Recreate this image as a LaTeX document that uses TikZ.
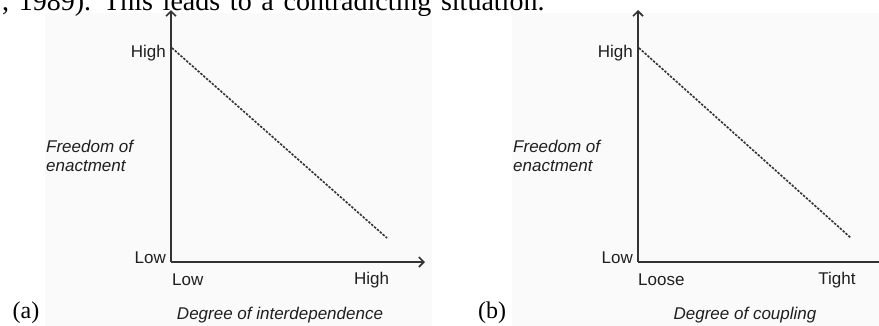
\documentclass[tikz,border=0pt]{standalone}
\usepackage{fontspec}
\setmainfont{Liberation Serif}
\newfontfamily\labelfont{Liberation Sans}
\usetikzlibrary{arrows.meta}
\definecolor{axisgray}{HTML}{333333}
\definecolor{panelbg}{HTML}{FAFAFA}
\newcommand{\widespaces}{\spaceskip=9.7pt\relax}
\tikzset{
  axisline/.style={draw=axisgray, line width=1.8pt, -{Straight Barb[length=5pt,width=10pt,line width=1.6pt]}},
  trendline/.style={draw=axisgray, line width=1.6pt, dash pattern=on 2.4pt off 1.4pt},
  ticklabel/.style={font=\labelfont\fontsize{17}{20}\selectfont, text=black!88, inner sep=0pt},
  axistitle/.style={font=\labelfont\itshape\fontsize{17}{19}\selectfont, text=black!88, inner sep=0pt},
  panellabel/.style={font=\fontsize{24}{28}\selectfont, inner sep=0pt},
  bodytext/.style={font=\fontsize{28}{32}\selectfont, inner sep=0pt, anchor=base west}
}
\begin{document}
\begin{tikzpicture}[x=1pt, y=-1pt]
  \useasboundingbox (0,0) rectangle (879,325);
  \clip (0,0) rectangle (879,325);
  \fill[white] (0,0) rectangle (879,325);

  % light panel backgrounds
  \fill[panelbg] (45,13) rectangle (432,330);
  \fill[panelbg] (512,13) rectangle (899,330);

  % running text above the figure
  \node[bodytext] (body) at (2,10) {\widespaces, 1989). This leads to a contradicting situation.};

  % ---- panel (a): freedom vs. interdependence
  \coordinate (aO) at (171,262);
  \coordinate (aY) at (171,10);
  \coordinate (aX) at (425,262);
  \coordinate (aS) at (172,48);
  \coordinate (aE) at (387,238);
  \draw[axisline] (aO) -- (aY);
  \draw[axisline] (aO) -- (aX);
  \draw[trendline] (aS) -- (aE);
  \node[ticklabel, anchor=east] (aHighY) at (166,53) {High};
  \node[ticklabel, anchor=east] (aLowY) at (166,258) {Low};
  \node[ticklabel, anchor=west] (aLowX) at (172,280) {Low};
  \node[ticklabel] (aHighX) at (371.5,280) {High};
  \node[axistitle, anchor=west, align=left] (aYt) at (46,156) {Freedom of\\enactment};
  \node[axistitle] (aXt) at (280,315) {Degree of interdependence};
  \node[panellabel] (aLab) at (26,313) {(a)};

  % ---- panel (b): freedom vs. coupling
  \coordinate (bO) at (638,262);
  \coordinate (bY) at (638,10);
  \coordinate (bX) at (892,262);
  \coordinate (bS) at (639,48);
  \coordinate (bE) at (851,238);
  \draw[axisline] (bO) -- (bY);
  \draw[axisline] (bO) -- (bX);
  \draw[trendline] (bS) -- (bE);
  \node[ticklabel, anchor=east] (bHighY) at (633,53) {High};
  \node[ticklabel, anchor=east] (bLowY) at (633,258) {Low};
  \node[ticklabel, anchor=west] (bLowX) at (638,280) {Loose};
  \node[ticklabel] (bHighX) at (837,280) {Tight};
  \node[axistitle, anchor=west, align=left] (bYt) at (513,156) {Freedom of\\enactment};
  \node[axistitle] (bXt) at (745,315) {Degree of coupling};
  \node[panellabel] (bLab) at (492,313) {(b)};
\end{tikzpicture}
\end{document}
